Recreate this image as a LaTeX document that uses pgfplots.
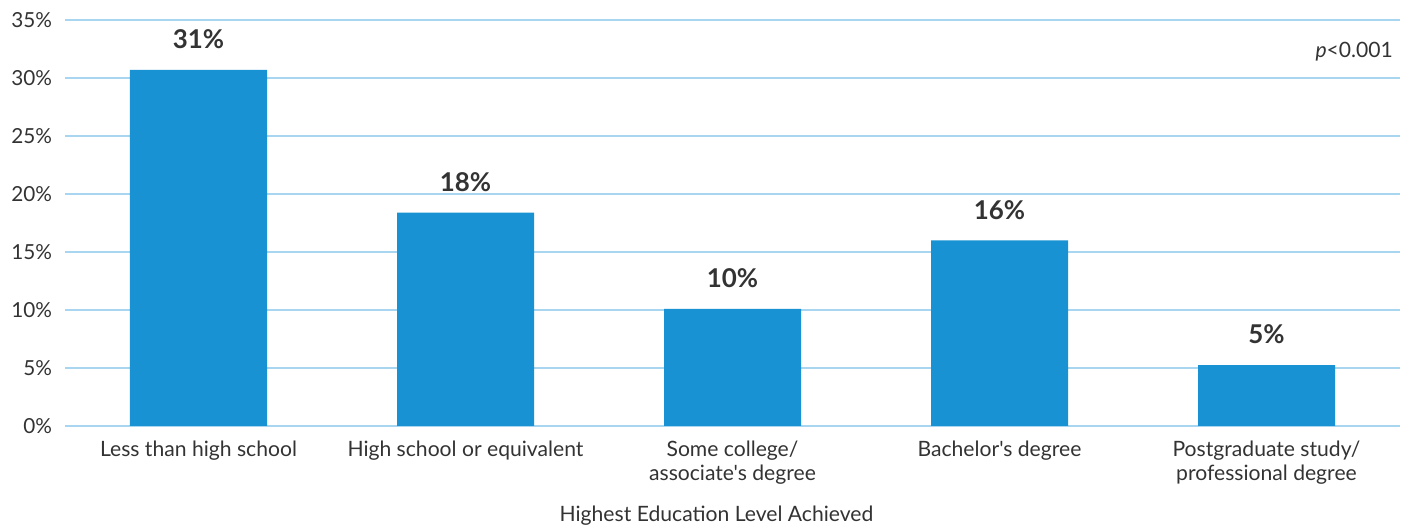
\documentclass[border=0pt]{standalone}
\usepackage{pgfplots}
\pgfplotsset{compat=1.18}
\usepackage{fontspec}
\setmainfont{Lato}[Ligatures=TeXOff]
\usetikzlibrary{calc}
\definecolor{barblue}{HTML}{1892D3}
\definecolor{gridblue}{HTML}{A8D5F0}
\definecolor{txt}{HTML}{333333}
\begin{document}
\begin{tikzpicture}
\begin{axis}[
  scale only axis,
  width=667.5bp, height=203bp,
  xmin=-0.5, xmax=4.5,
  ymin=0, ymax=35,
  ytick={0,5,...,35},
  yticklabel={\pgfmathprintnumber{\tick}\%},
  /pgf/number format/assume math mode=true,
  xtick=data,
  xticklabels={Less than high school, High school or equivalent, Some college/\\associate's degree, Bachelor's degree, Postgraduate study/\\professional degree},
  xticklabel style={align=center, font=\fontsize{10.6}{12}\selectfont, text=txt, yshift=-4bp},
  yticklabel style={font=\fontsize{10.4}{12}\selectfont, text=txt, xshift=-3bp},
  axis line style={draw=none},
  major tick length=0pt,
  ymajorgrids,
  grid style={gridblue, line width=1bp},
  xlabel={Highest Education Level Achieved},
  xlabel style={font=\fontsize{10.6}{12}\selectfont, text=txt, yshift=-4bp, xshift=-8bp},
  ybar, bar width=68.5bp,
  nodes near coords={\textbf{\pgfmathprintnumber[fixed,precision=0]{\pgfplotspointmeta}\%}},
  nodes near coords style={font=\fontsize{13}{14}\selectfont, text=txt, anchor=south, yshift=7bp},
  clip=false,
]
\addplot[fill=barblue, draw=none] coordinates {(0,30.7) (1,18.4) (2,10.1) (3,16.0) (4,5.25)};
\node[anchor=east, font=\fontsize{10.6}{12}\selectfont, text=txt] at (rel axis cs:1,0.921) {\textit{p}<0.001};
\end{axis}
\pgfresetboundingbox
\path[use as bounding box] ($(current axis.south west)+(-32.5bp,-51.5bp)$) rectangle ($(current axis.north east)+(4bp,10bp)$);
\end{tikzpicture}
\end{document}
